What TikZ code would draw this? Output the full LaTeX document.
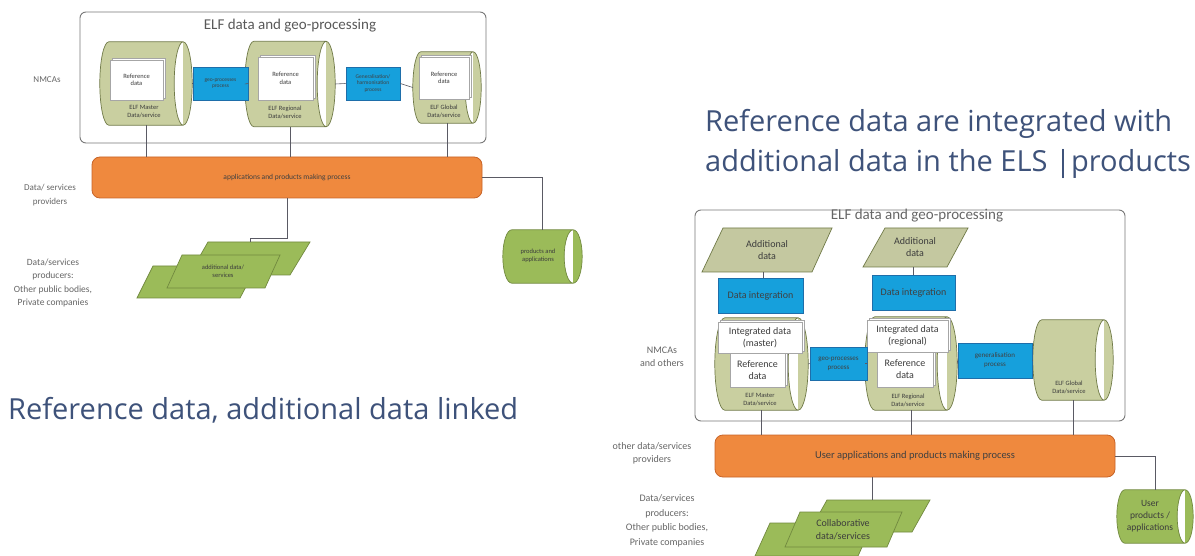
\documentclass[tikz,border=0pt]{standalone}
\usepackage{fontspec}
\setmainfont{Carlito}
\newfontfamily\titlefont{Open Sans}
\usetikzlibrary{calc,shadows}
\definecolor{titleblue}{RGB}{62,82,122}
\definecolor{cylfill}{RGB}{201,207,160}
\definecolor{cyldraw}{RGB}{112,122,72}
\definecolor{grnfill}{RGB}{155,187,89}
\definecolor{grndraw}{RGB}{113,137,63}
\definecolor{addfill}{RGB}{196,200,160}
\definecolor{bluefill}{RGB}{22,160,220}
\definecolor{bluedraw}{RGB}{30,110,170}
\definecolor{orfill}{RGB}{239,137,62}
\definecolor{ordraw}{RGB}{200,100,40}
\definecolor{framec}{RGB}{120,120,120}
\definecolor{linec}{RGB}{90,90,100}
\definecolor{txtc}{RGB}{60,60,60}
\newcommand{\fsz}[2]{\fontsize{#1}{#2}\selectfont}
% horizontal cylinder drawn on the box of a named node: name, x radius of ends (pt), style
\newcommand{\hcyl}[3]{%
  \path[#3] let \p1=(#1.north west), \p2=(#1.south east), \n1={(\y1-\y2)/2} in
    (\x1+#2,\y1) -- (\x2-#2,\y1)
    arc[start angle=90,end angle=-90,x radius=#2pt,y radius=\n1]
    -- (\x1+#2,\y2)
    arc[start angle=270,end angle=90,x radius=#2pt,y radius=\n1] -- cycle
    (\x2-#2,\y1) arc[start angle=90,end angle=270,x radius=#2pt,y radius=\n1];}
\tikzset{
  lbl/.style={align=center, text=txtc, inner sep=0pt},
  cylbox/.style={rectangle, inner sep=0pt},
  cylsty/.style={draw=cyldraw, fill=cylfill, line width=0.7pt},
  grcylsty/.style={draw=grndraw, fill=grnfill, line width=0.7pt},
  refbox/.style={draw=gray!70, fill=white, line width=0.6pt, inner sep=0pt, align=center, text=txtc,
     copy shadow={shadow xshift=2pt, shadow yshift=2pt}},
  procbox/.style={draw=bluedraw, fill=bluefill, line width=0.6pt, inner sep=0pt, align=center, text=black!75},
  bar/.style={draw=ordraw, fill=orfill, rounded corners=8pt, line width=0.8pt, inner sep=0pt, text=black!75},
  conn/.style={draw=linec, line width=0.6pt},
  frm/.style={draw=framec, rounded corners=6pt, line width=0.9pt},
  para/.style={draw=grndraw, fill=grnfill, line width=0.7pt},
  addpara/.style={draw=cyldraw, fill=addfill, line width=0.7pt},
  bigtitle/.style={anchor=west, inner sep=0pt, text=titleblue, font=\titlefont\fsz{29}{34}},
}
\begin{document}
\begin{tikzpicture}[x=1pt,y=1pt]
\useasboundingbox[fill=white] (0,0) rectangle (1195,-556);

% ================= LEFT DIAGRAM =================
\draw[frm] (80,-12) rectangle (486,-143);
\node[lbl, text=black!65, font=\fsz{15}{17}] (ltitle) at (290,-26) {ELF data and geo-processing};

\node[cylbox, minimum width=92, minimum height=83] (cyl1) at (146,-83.5) {};
\node[cylbox, minimum width=90, minimum height=85] (cyl2) at (290,-84) {};
\node[cylbox, minimum width=68, minimum height=71] (cyl3) at (447,-87.5) {};
\hcyl{cyl1}{9}{cylsty}
\hcyl{cyl2}{9}{cylsty}
\hcyl{cyl3}{8}{cylsty}

\node[refbox, minimum width=53, minimum height=40, font=\fsz{6.5}{7.5}] (lref1) at (136.5,-80) {Reference\\data};
\node[refbox, minimum width=55, minimum height=43, font=\fsz{6.5}{7.5}] (lref2) at (285.5,-78.5) {Reference\\data};
\node[refbox, minimum width=50, minimum height=42, font=\fsz{6.5}{7.5}] (lref3) at (444,-78) {Reference\\data};

\node[lbl, font=\fsz{6.5}{8}] (lc1) at (144,-112) {ELF Master\\Data/service};
\node[lbl, font=\fsz{6.5}{8}] (lc2) at (285,-112) {ELF Regional\\Data/service};
\node[lbl, font=\fsz{6.5}{8}] (lc3) at (444,-111) {ELF Global\\Data/service};

\node[procbox, minimum width=55, minimum height=33, font=\fsz{5.5}{6.5}] (lb1) at (220.5,-83.5) {geo-processes\\process};
\node[procbox, minimum width=54, minimum height=33, font=\fsz{5.5}{6.5}] (lb2) at (373,-83.5) {Generalisation/\\harmonisation\\process};

\draw[conn] (cyl1.east) -- (lb1.west);
\draw[conn] (lb1.east) -- (cyl2.west);
\draw[conn] (cyl2.east) -- (lb2.west);
\draw[conn] (lb2.east) -- (cyl3.west);

\node[bar, minimum width=390, minimum height=41, font=\fsz{7.5}{9}] (bar1) at (287,-177.5) {applications and products making process};

\draw[conn] (cyl1.south) -- (cyl1.south |- bar1.north);
\draw[conn] (cyl2.south) -- (cyl2.south |- bar1.north);
\draw[conn] (cyl3.south) -- (cyl3.south |- bar1.north);

\node[lbl, text=black!60, font=\fsz{9}{11}] (nmca1) at (47,-80) {NMCAs};
\node[lbl, text=black!60, font=\fsz{9}{14}] (prov1) at (50,-195) {Data/ services\\providers};
\node[lbl, text=black!60, font=\fsz{9.5}{13.4}] (prod1) at (53,-283) {Data/services\\producers:\\Other public bodies,\\Private companies};

% left parallelograms
\coordinate (lpt) at (250,-242);
\draw[para] (208,-242) -- (310,-242) -- (290,-275) -- (189,-275) -- cycle;
\draw[para] (153,-266) -- (257,-266) -- (240,-298) -- (137,-298) -- cycle;
\draw[para] (182,-255) -- (280,-255) -- (265,-288) -- (167,-288) -- cycle;
\node[lbl, font=\fsz{6.5}{8}] (addl) at (223,-271) {additional data/\\services};

\draw[conn] (bar1.south) -- ++(0,-39.5) -| (lpt);

\node[cylbox, minimum width=79, minimum height=53] (prodcyl) at (542.5,-256.5) {};
\hcyl{prodcyl}{9}{grcylsty}
\node[lbl, font=\fsz{6.5}{8}] (prodtxt) at (538,-256) {products and\\applications};
\draw[conn] (bar1.east) -| (prodcyl.north);

\node[bigtitle] (ltit) at (8,-410) {Reference data, additional data linked};

% ================= RIGHT DIAGRAM =================
\node[bigtitle] (rtit1) at (705,-124) {Reference data are integrated with};
\node[bigtitle] (rtit2) at (705,-164) {additional data in the ELS |products};

\draw[frm] (695,-210) rectangle (1125,-421);
\node[lbl, text=black!60, font=\fsz{15}{17}] (rtitle) at (917,-216) {ELF data and geo-processing};

% additional data parallelograms
\draw[addpara] (723,-228) -- (832,-228) -- (812,-272) -- (702,-272) -- cycle;
\node[lbl, font=\fsz{10}{12}] (add1) at (767,-250) {Additional\\data};
\coordinate (add1b) at (763,-272);
\draw[addpara] (885,-228) -- (968,-228) -- (947,-267) -- (863,-267) -- cycle;
\node[lbl, font=\fsz{10}{12}] (add2) at (915,-247) {Additional\\data};
\coordinate (add2b) at (913,-267);

\node[procbox, minimum width=85, minimum height=35, font=\fsz{10}{12}] (di1) at (760.5,-295.5) {Data integration};
\node[procbox, minimum width=83, minimum height=35, font=\fsz{10}{12}] (di2) at (913.5,-292.5) {Data integration};
\draw[conn] (add1b) -- (add1b |- di1.north);
\draw[conn] (add2b) -- (add2b |- di2.north);

\node[cylbox, minimum width=93, minimum height=92] (mcyl) at (761.5,-364) {};
\node[cylbox, minimum width=92, minimum height=93] (rcyl) at (911,-363.5) {};
\node[cylbox, minimum width=80, minimum height=80] (gcyl) at (1073,-360) {};
\hcyl{mcyl}{10}{cylsty}
\hcyl{rcyl}{10}{cylsty}
\hcyl{gcyl}{9}{cylsty}

\node[refbox, minimum width=55, minimum height=34, font=\fsz{10}{12}] (ref1) at (757.5,-370) {Reference\\data};
\node[refbox, minimum width=84, minimum height=31, font=\fsz{10}{12}] (int1) at (760,-337.5) {Integrated data\\(master)};
\node[refbox, minimum width=56, minimum height=35, font=\fsz{10}{12}] (ref2) at (905,-369.5) {Reference\\data};
\node[refbox, minimum width=81, minimum height=32, font=\fsz{10}{12}] (int2) at (907.5,-336) {Integrated data\\(regional)};

\node[lbl, font=\fsz{6.5}{8}] (rc1) at (760,-400) {ELF Master\\Data/service};
\node[lbl, font=\fsz{6.5}{8}] (rc2) at (908,-400) {ELF Regional\\Data/service};
\node[lbl, font=\fsz{6.5}{8}] (rc3) at (1069,-387) {ELF Global\\Data/service};

\node[procbox, minimum width=57, minimum height=33, font=\fsz{7}{9}] (geo) at (838.5,-363.5) {geo-processes\\process};
\node[procbox, minimum width=74, minimum height=35, font=\fsz{7}{9}] (gen) at (995,-360.5) {generalisation\\process};

\draw[conn] (mcyl.east) -- (geo.west);
\draw[conn] (geo.east) -- (rcyl.west);
\draw[conn] (rcyl.east) -- (gen.west);
\draw[conn] (gen.east) -- (gcyl.west);

\node[bar, minimum width=400, minimum height=42, font=\fsz{10.5}{12}] (bar2) at (915,-456) {User applications and products making process};

\draw[conn] (mcyl.south) -- (mcyl.south |- bar2.north);
\draw[conn] (rcyl.south) -- (rcyl.south |- bar2.north);
\draw[conn] (gcyl.south) -- (gcyl.south |- bar2.north);

\node[lbl, text=black!60, font=\fsz{10}{13}] (nmca2) at (662,-357) {NMCAs\\and others};
\node[lbl, text=black!60, font=\fsz{10}{13}] (prov2) at (652,-453) {other data/services\\providers};
\node[lbl, text=black!60, font=\fsz{10}{14.5}] (prod2) at (667,-521) {Data/services\\producers:\\Other public bodies,\\Private companies};

% bottom parallelograms right
\coordinate (rpt) at (872,-500);
\draw[para] (827,-500) -- (930,-500) -- (912,-532) -- (809,-532) -- cycle;
\draw[para] (770,-523) -- (873,-523) -- (858,-556) -- (755,-556) -- cycle;
\draw[para] (800,-512) -- (902,-512) -- (887,-547) -- (785,-547) -- cycle;
\node[lbl, font=\fsz{10}{13}] (collab) at (843,-530) {Collaborative\\data/services};
\draw[conn] (rpt |- bar2.south) -- (rpt);

\node[cylbox, minimum width=76, minimum height=53] (ucyl) at (1155,-516.5) {};
\hcyl{ucyl}{8}{grcylsty}
\node[lbl, font=\fsz{9.5}{12}] (utxt) at (1150,-516) {User\\products /\\applications};
\draw[conn] (bar2.east) -| (ucyl.north);
\end{tikzpicture}
\end{document}
